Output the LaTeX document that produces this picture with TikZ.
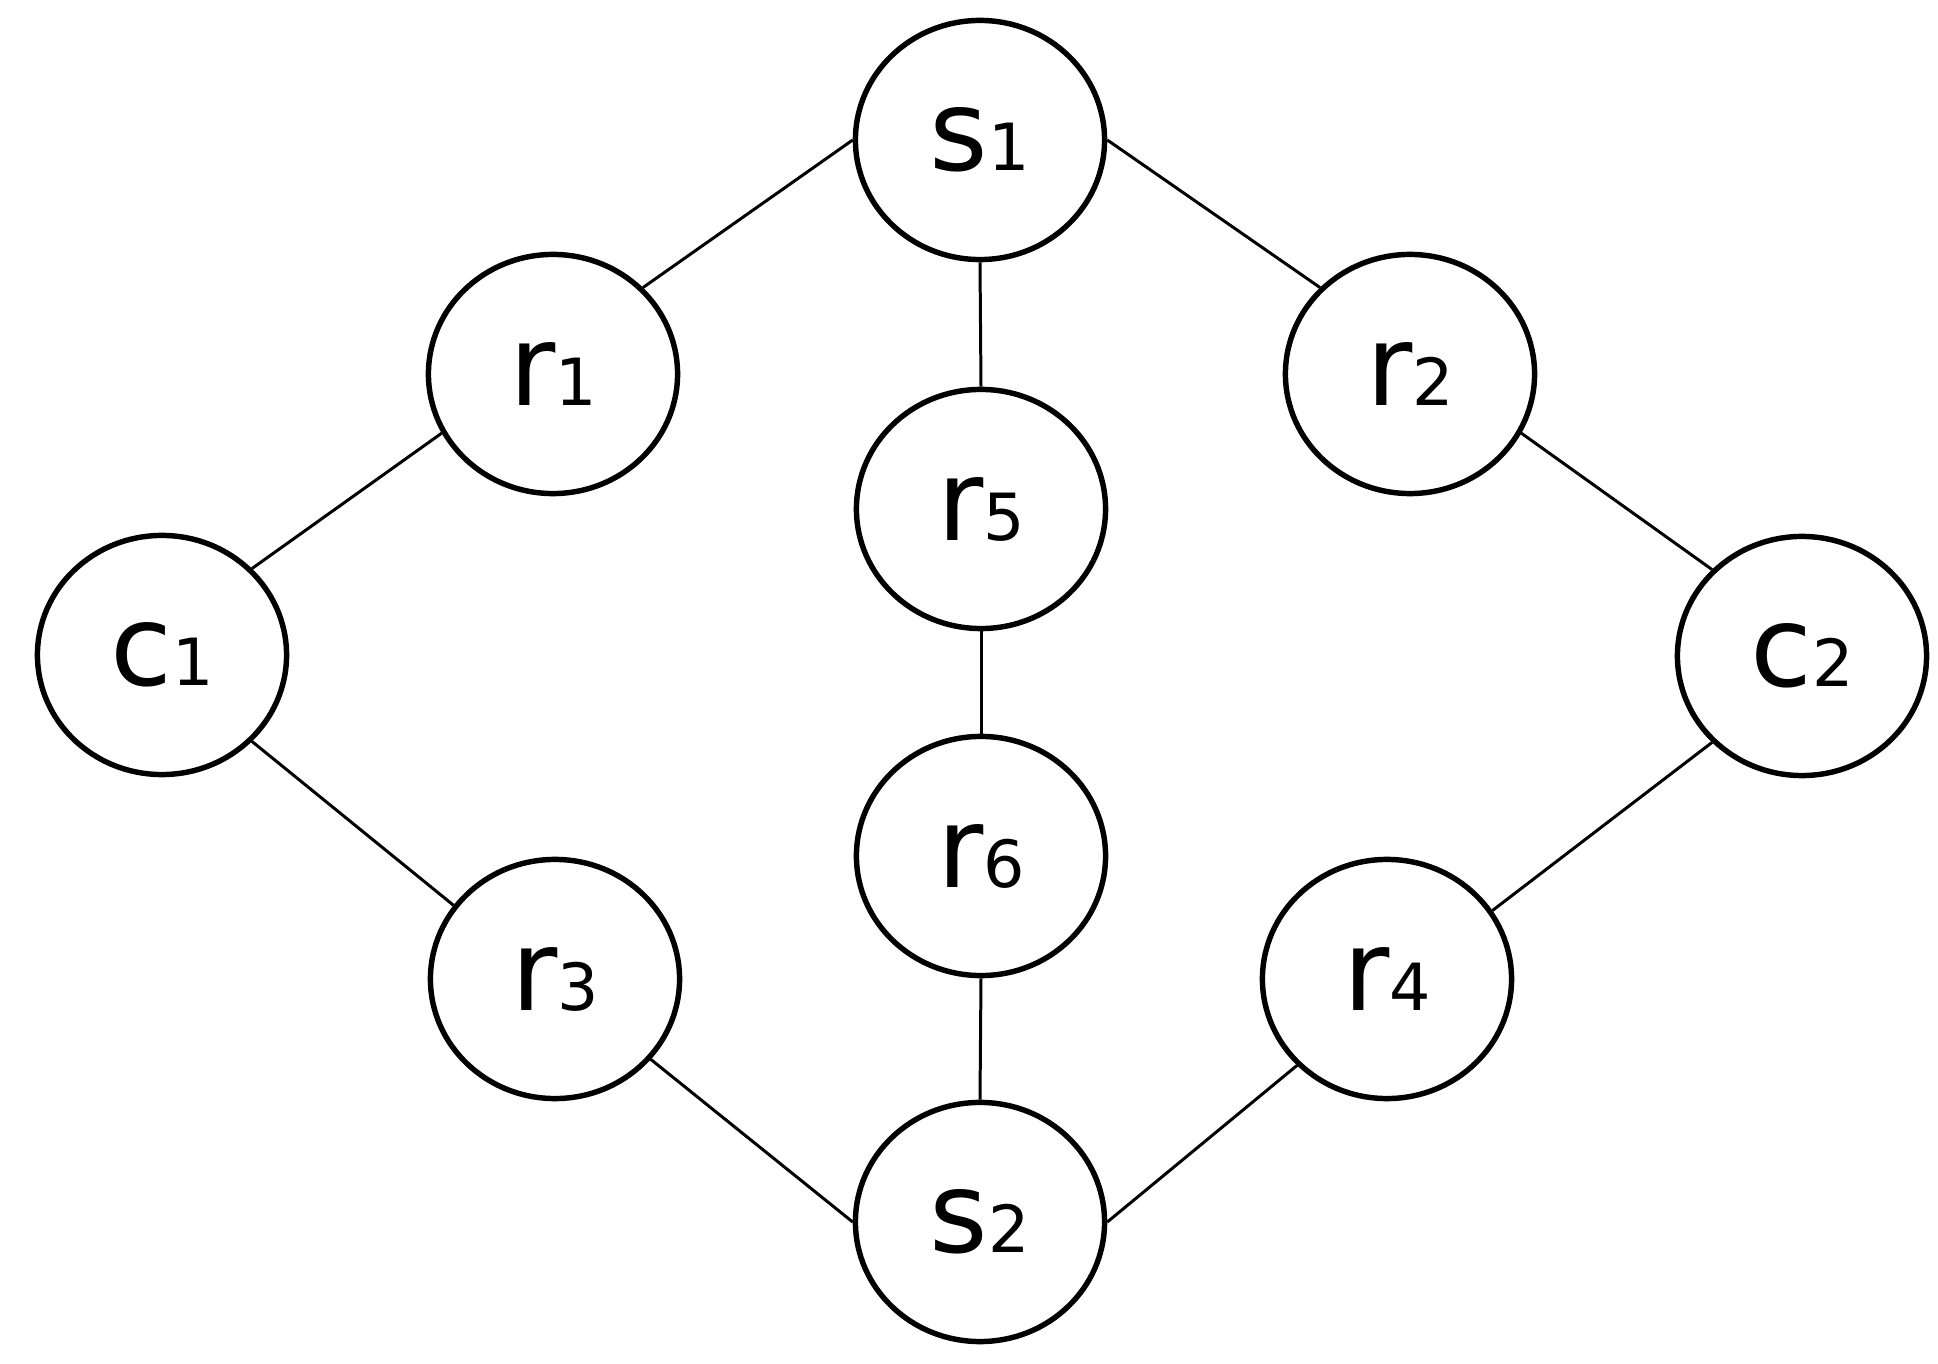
\documentclass[tikz,border=0pt]{standalone}
\usepackage{fontspec}
\setmainfont{DejaVu Sans}
\usetikzlibrary{shapes.geometric}

\newcommand{\vlabel}[2]{{\fontsize{32}{32}\selectfont #1}{\fontsize{18.5}{18.5}\selectfont #2}}

\begin{document}
\begin{tikzpicture}[x=0.01cm, y=-0.01cm,
    vertex/.style={draw, ellipse, line width=1.55pt, minimum width=2.49cm, minimum height=2.39cm, inner sep=0pt},
    link/.style={line width=0.85pt}]
    \useasboundingbox (0,0) rectangle (1938,1364);

    \coordinate (S1) at (980,140);
    \coordinate (R1) at (553,374);
    \coordinate (R2) at (1410,374);
    \coordinate (R5) at (981,509);
    \coordinate (C1) at (162,655);
    \coordinate (C2) at (1802,656);
    \coordinate (R6) at (981,856);
    \coordinate (R3) at (555,979);
    \coordinate (R4) at (1387,979);
    \coordinate (S2) at (980,1222);

    \node [vertex] (s1) at (S1) {\vlabel{s}{1}};
    \node [vertex] (r1) at (R1) {\vlabel{r}{1}};
    \node [vertex] (r2) at (R2) {\vlabel{r}{2}};
    \node [vertex] (r5) at (R5) {\vlabel{r}{5}};
    \node [vertex] (c1) at (C1) {\vlabel{c}{1}};
    \node [vertex] (c2) at (C2) {\vlabel{c}{2}};
    \node [vertex] (r6) at (R6) {\vlabel{r}{6}};
    \node [vertex] (r3) at (R3) {\vlabel{r}{3}};
    \node [vertex] (r4) at (R4) {\vlabel{r}{4}};
    \node [vertex] (s2) at (S2) {\vlabel{s}{2}};

    \draw [link] (s1.west) -- (r1.north east);
    \draw [link] (s1.east) -- (r2.north west);
    \draw [link] (s1.south) -- (r5.north);
    \draw [link] (r5.south) -- (r6.north);
    \draw [link] (r6.south) -- (s2.north);
    \draw [link] (r1.208) -- (c1.north east);
    \draw [link] (r2.332) -- (c2.north west);
    \draw [link] (c1.south east) -- (r3.144);
    \draw [link] (c2.south west) -- (r4.33);
    \draw [link] (r3.320) -- (s2.west);
    \draw [link] (r4.south west) -- (s2.east);
\end{tikzpicture}
\end{document}
